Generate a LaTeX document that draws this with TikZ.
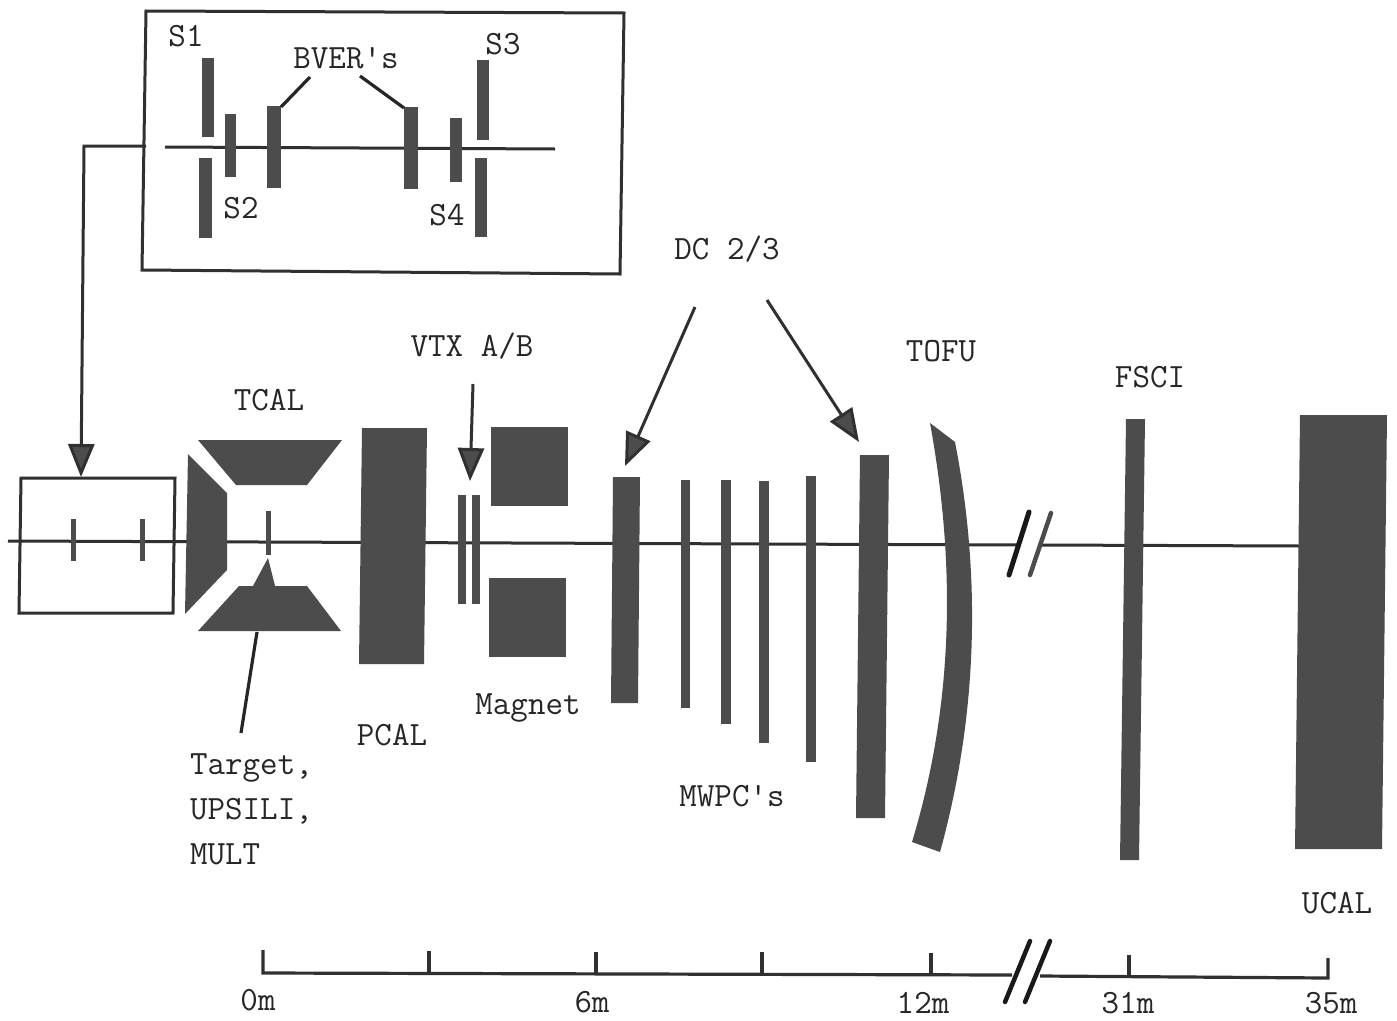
\documentclass[tikz,border=0pt]{standalone}
\usetikzlibrary{arrows.meta}
\definecolor{inkline}{HTML}{303030}
\definecolor{inkfill}{HTML}{4C4C4C}
\tikzset{
  solid part/.style={fill=inkfill,draw=none},
  frame/.style={draw=inkline,line width=3pt},
  beam/.style={draw=inkline,line width=3pt},
  leader/.style={draw=black!85,line width=3.2pt},
  arrowline/.style={draw=inkline,line width=3pt,-{Triangle[length=33pt,width=26pt,fill=inkfill]}},
  scaleline/.style={draw=inkline,line width=3.2pt},
  breakmark/.style={draw=black!90,line width=5pt,line cap=round},
  lab/.style={font=\ttfamily\fontsize{34}{34}\selectfont,text=black!85,inner sep=0pt}
}
\newcommand{\vbar}[4]{\fill[solid part] (#1,#3) rectangle (#2,#4);}
\begin{document}
\begin{tikzpicture}[x=1pt,y=-1pt]
\useasboundingbox (0,0) rectangle (1397,1020);
\fill[white] (0,0) rectangle (1397,1020);
% anchor points
\coordinate (feedA) at (146,146);
\coordinate (feedB) at (84,146);
\coordinate (feedC) at (81,477);
\coordinate (beamTopA) at (165,147);
\coordinate (beamTopB) at (555,149);
\coordinate (beamA) at (8,541);
\coordinate (beamB) at (1019,545);
\coordinate (beamC) at (1040,545);
\coordinate (beamD) at (1300,546);
\coordinate (bverL) at (281,107);
\coordinate (bverR) at (404,108);
\coordinate (tcalLow) at (257,632);
\coordinate (vtxTip) at (470,481);
\coordinate (dcTipA) at (625,466);
\coordinate (dcTipB) at (859,442);
% beam lines
\draw[beam] (beamTopA) -- (beamTopB);
\draw[beam] (beamA) -- (beamB);
\draw[beam] (beamC) -- (beamD);
% beam-telescope box
\draw[frame] (146,11) -- (624,13) -- (620,274) -- (142,270) -- cycle;
\draw[arrowline] (feedA) -- (feedB) -- (feedC);
\vbar{202}{214}{58}{137}
\vbar{199}{212}{158}{238}
\vbar{225}{236}{114}{177}
\vbar{267}{281}{106}{188}
\vbar{404}{418}{107}{189}
\vbar{450}{462}{118}{182}
\vbar{477}{489}{60}{140}
\vbar{475}{487}{158}{237}
% small box upstream
\draw[frame] (21,478) -- (175,478) -- (173,613) -- (19,613) -- cycle;
\vbar{70.5}{75.5}{519}{561}
\vbar{139.5}{144.5}{519}{561}
\vbar{266}{271}{511}{555}
% TCAL
\fill[solid part] (198,440) -- (342,440) -- (307,485) -- (236,485) -- cycle;
\fill[solid part] (198,631) -- (341,631) -- (307,586) -- (275,586) -- (268,558) -- (253,586) -- (239,586) -- cycle;
\fill[solid part] (188,454) -- (227,493) -- (227,570) -- (185,614) -- cycle;
% PCAL
\fill[solid part] (362,428) -- (427,428) -- (424,664) -- (359,664) -- cycle;
% VTX
\vbar{458}{466}{495}{604}
\vbar{472}{480}{495}{604}
% Magnet
\vbar{491}{568}{427}{506}
\vbar{489}{566}{578}{657}
% DC and MWPC
\fill[solid part] (613,477) -- (640,477) -- (638,703) -- (611,703) -- cycle;
\vbar{681}{690}{480}{708}
\vbar{721}{731}{480}{724}
\vbar{759}{769}{481}{743}
\vbar{806}{816}{476}{762}
\fill[solid part] (860,455) -- (889,455) -- (885,818) -- (856,818) -- cycle;
% TOFU
\fill[solid part] (930,423) -- (955,442) .. controls (978,560) and (982,700) .. (940,852) -- (912,842) .. controls (955,700) and (955,560) .. (930,423) -- cycle;
% FSCI, UCAL
\fill[solid part] (1126,419) -- (1145,419) -- (1139,860) -- (1120,860) -- cycle;
\fill[solid part] (1300,415) -- (1387,415) -- (1382,849) -- (1295,849) -- cycle;
% axis break on the beam
\draw[breakmark] (1009,575) -- (1029,512);
\draw[breakmark,draw=inkfill,line width=4.5pt] (1030,575) -- (1051,513);
% labels
\node[lab] (ls1) at (186,36) {S1};
\node[lab] (ls2) at (241,208) {S2};
\node[lab] (ls3) at (503,44) {S3};
\node[lab] (ls4) at (447,215) {S4};
\node[lab] (lbver) at (346,58) {BVER's};
\node[lab] (ldc) at (727,249) {DC 2/3};
\node[lab] (lvtx) at (472,346) {VTX A/B};
\node[lab] (ltcal) at (269,400) {TCAL};
\node[lab] (ltofu) at (941,351) {TOFU};
\node[lab] (lfsci) at (1150,377) {FSCI};
\node[lab] (lpcal) at (392,735) {PCAL};
\node[lab] (lmag) at (528,708) {Magnet};
\node[lab] (lmw) at (732,796) {MWPC's};
\node[lab] (lucal) at (1337,903) {UCAL};
\node[lab,anchor=west] (lt1) at (190,768) {Target,};
\node[lab,anchor=west] (lt2) at (190,811) {UPSILI,};
\node[lab,anchor=west] (lt3) at (190,854) {MULT};
\coordinate (tgtEnd) at (241,733);
\coordinate (bverLabL) at (310,77);
\coordinate (bverLabR) at (360,76);
\coordinate (vtxStart) at (473,384);
\coordinate (dcStartA) at (695,307);
\coordinate (dcStartB) at (767,300);
% connectors
\draw[leader] (bverLabL) -- (bverL);
\draw[leader] (bverLabR) -- (bverR);
\draw[leader] (tcalLow) -- (tgtEnd);
\draw[arrowline] (vtxStart) -- (vtxTip);
\draw[arrowline] (dcStartA) -- (dcTipA);
\draw[arrowline] (dcStartB) -- (dcTipB);
% scale
\draw[scaleline] (263,950) -- (263,973) -- (1012,975);
\draw[scaleline] (1040,976) -- (1328,978) -- (1328,958);
\foreach \tx/\ty in {429/973,596/974,762/974,931/975,1129/977}
  \draw[scaleline] (\tx,\ty) -- (\tx,\ty-22);
\draw[breakmark,line width=4.5pt] (1005,1002) -- (1030,941);
\draw[breakmark,line width=4.5pt] (1025,1002) -- (1050,941);
\node[lab] (s0) at (258,1000) {0m};
\node[lab] (s6) at (592,1002) {6m};
\node[lab] (s12) at (923,1003) {12m};
\node[lab] (s31) at (1128,1003) {31m};
\node[lab] (s35) at (1331,1003) {35m};
\end{tikzpicture}
\end{document}
